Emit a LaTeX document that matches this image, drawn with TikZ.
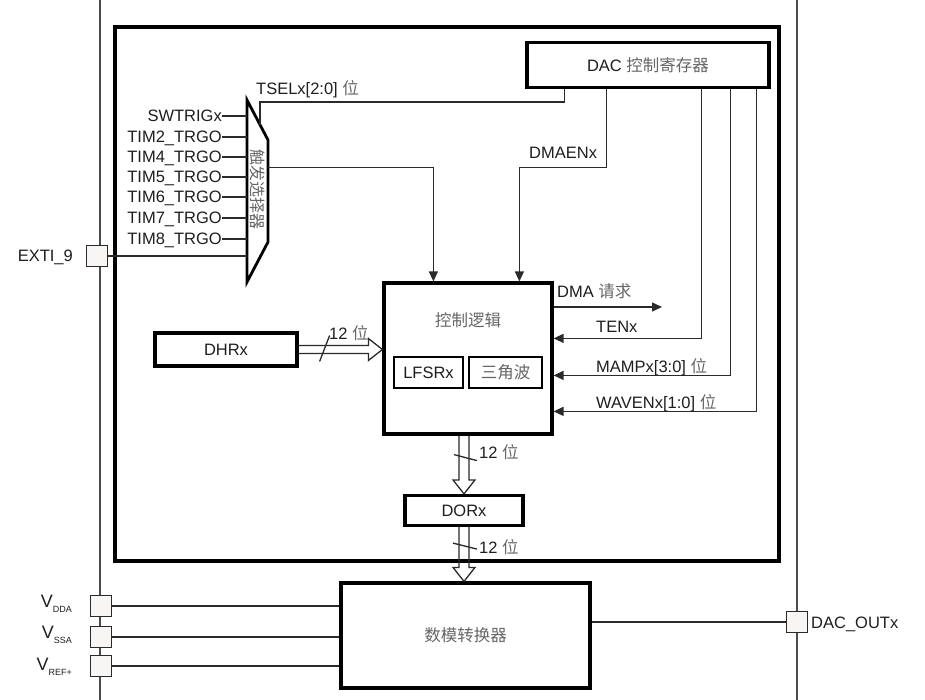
\documentclass[tikz,border=0pt]{standalone}
\usepackage{fontspec}
\setmainfont{Liberation Sans}
\newfontfamily\cjk{Noto Sans CJK SC}
\usetikzlibrary{arrows.meta,calc}
\definecolor{txtgray}{HTML}{1E1E1E}
\definecolor{cngray}{HTML}{666666}
\definecolor{linegray}{HTML}{2A2A2A}
\definecolor{pinfill}{HTML}{F8F6F4}
\newcommand{\zh}[1]{{\cjk\color{cngray}#1}}
\tikzset{
  blk/.style={draw, line width=3.2pt, fill=white, inner sep=0pt, text=txtgray},
  pin/.style={draw=linegray, fill=pinfill, line width=1.3pt, minimum size=21pt, inner sep=0pt},
  lbl/.style={inner sep=0pt, text=txtgray, text height=11.8pt, text depth=0pt},
  sig/.style={draw=linegray, line width=1.3pt},
  arr/.style={sig, -{Triangle[length=10pt,width=9pt]}},
  bus/.style={draw=linegray, line width=1.3pt, line join=miter},
}
\begin{document}
\begin{tikzpicture}[x=1pt, y=-1pt, font=\fontsize{16.5}{20}\selectfont]
\useasboundingbox (0,0) rectangle (925,700);
% outer border and frame
\draw[sig, draw=black!70] (100,0) -- (100,700);
\draw[sig, draw=black!70] (797,0) -- (797,700);
\draw[line width=3.2pt] (115,27) rectangle (779,561);
% blocks
\node[blk, minimum width=242pt, minimum height=45pt] (dacreg) at (648,65) {DAC \zh{控制寄存器}};
\node[blk, minimum width=168pt, minimum height=151pt] (ctrl) at (468,358.5) {};
\node[lbl] (ctrltxt) at (468,321) {\zh{控制逻辑}};
\node[blk, line width=2.8pt, minimum width=69pt, minimum height=31pt] (lfsr) at (428.5,372.5) {LFSRx};
\node[blk, line width=2.8pt, minimum width=73pt, minimum height=31pt] (tri) at (505.5,372.5) {\zh{三角波}};
\node[blk, minimum width=142pt, minimum height=33pt] (dhr) at (226,349.5) {DHRx};
\node[blk, minimum width=118pt, minimum height=30pt] (dor) at (464,510.5) {DORx};
\node[blk, minimum width=249pt, minimum height=105pt] (dac) at (465.5,635.5) {\zh{数模转换器}};
% trigger selector
\draw[line width=2.8pt, fill=white] (247,100) coordinate (muxtl) -- (268,140) coordinate (muxtr)
  -- (268,242) coordinate (muxbr) -- (247,282) coordinate (muxbl) -- cycle;
\node[lbl, rotate=-90, font=\fontsize{16}{16}\selectfont] (muxtxt) at (257.5,190) {\zh{触发选择器}};
\foreach \name/\txt/\y in {sw/SWTRIGx/116, t2/TIM2\_TRGO/137, t4/TIM4\_TRGO/157, t5/TIM5\_TRGO/177,
    t6/TIM6\_TRGO/197, t7/TIM7\_TRGO/218, t8/TIM8\_TRGO/239}{
  \node[lbl, anchor=east] (\name) at (222,\y) {\txt};
  \draw[sig] (\name.east) -- (\name.east -| muxtl);
}
% pins
\node[pin] (exti) at (97,256) {};
\node[lbl, anchor=east] (lexti) at (73,256) {EXTI\_9};
\draw[sig] (exti.east) -- (exti.east -| muxtl);
\node[pin] (vdda) at (101,606) {};
\node[pin] (vssa) at (101,637) {};
\node[pin] (vref) at (101,666) {};
\node[lbl, anchor=east] (lvdda) at (72,601.5) {\fontsize{18}{20}\selectfont V\raisebox{-5pt}{\fontsize{9}{9}\selectfont DDA}};
\node[lbl, anchor=east] (lvssa) at (72,632.5) {\fontsize{18}{20}\selectfont V\raisebox{-5pt}{\fontsize{9}{9}\selectfont SSA}};
\node[lbl, anchor=east] (lvref) at (72,665) {\fontsize{18}{20}\selectfont V\raisebox{-5pt}{\fontsize{9}{9}\selectfont REF+}};
\draw[sig] (vdda.east) -- (vdda.east -| dac.west);
\draw[sig] (vssa.east) -- (vssa.east -| dac.west);
\draw[sig] (vref.east) -- (vref.east -| dac.west);
\node[pin] (dout) at (797,622) {};
\node[lbl, anchor=west] (ldout) at (811,623) {DAC\_OUTx};
\draw[sig] (dac.east |- dout.west) -- (dout.west);
% 12-bit buses
\coordinate (b0s) at (dhr.east);
\coordinate (b0e) at (ctrl.west |- dhr.east);
\draw[bus] ($(b0s)+(0,-4)$) -- ($(b0e)+(-14,-4)$) -- ($(b0e)+(-14,-11)$) -- (b0e)
  -- ($(b0e)+(-14,11)$) -- ($(b0e)+(-14,4)$) -- ($(b0s)+(0,4)$);
\coordinate (b1s) at (dor.north |- ctrl.south);
\draw[bus] ($(b1s)+(-5,0)$) -- ($(dor.north)+(-5,-14)$) -- ($(dor.north)+(-11,-14)$) -- (dor.north)
  -- ($(dor.north)+(11,-14)$) -- ($(dor.north)+(5,-14)$) -- ($(b1s)+(5,0)$);
\coordinate (b2e) at (dor.south |- dac.north);
\draw[bus] ($(dor.south)+(-5,0)$) -- ($(b2e)+(-5,-14)$) -- ($(b2e)+(-11,-14)$) -- (b2e)
  -- ($(b2e)+(11,-14)$) -- ($(b2e)+(5,-14)$) -- ($(dor.south)+(5,0)$);
\draw[sig] ($(b0s)+(21,12)$) -- ($(b0s)+(31,-14)$);
\draw[sig] ($(b1s)+(-10,19)$) -- ($(b1s)+(13,25)$);
\draw[sig] ($(dor.south)+(-11,16)$) -- ($(dor.south)+(13,22)$);
\node[lbl, anchor=west] (w0) at (329,334) {12 \zh{位}};
\node[lbl, anchor=west] (w1) at (479,453) {12 \zh{位}};
\node[lbl, anchor=west] (w2) at (479,548) {12 \zh{位}};
% register signals
\coordinate (tselend) at ($(muxtl)!0.62!(muxtr)$);
\draw[sig] ([xshift=39pt]dacreg.south west) -- ++(0,13) -| (tselend);
\node[lbl, anchor=west] (ltsel) at (256,89) {TSELx[2:0] \zh{位}};
\coordinate (muxout) at ($(muxtr)!0.27!(muxbr)$);
\draw[arr] (muxout) -| ([xshift=51pt]ctrl.north west);
\coordinate (dmaen) at ([xshift=137pt]ctrl.north west);
\draw[arr] ([xshift=81pt]dacreg.south west) |- (dmaen |- muxout) -- (dmaen);
\node[lbl, anchor=west] (ldmaen) at (529,153) {DMAENx};
\foreach \dx/\dy in {176/57, 205/94, 231/130}
  \draw[arr] ([xshift=\dx pt]dacreg.south west) |- ([yshift=-\dy pt]ctrl.north east);
\node[lbl, anchor=west] (lten) at (596,327) {TENx};
\node[lbl, anchor=west] (lmamp) at (596,367) {MAMPx[3:0] \zh{位}};
\node[lbl, anchor=west] (lwaven) at (596,403) {WAVENx[1:0] \zh{位}};
\coordinate (dmareq) at (662,307);
\draw[arr] (ctrl.east |- dmareq) -- (dmareq);
\node[lbl, anchor=west] (ldmareq) at (557,292) {DMA \zh{请求}};
\end{tikzpicture}
\end{document}
